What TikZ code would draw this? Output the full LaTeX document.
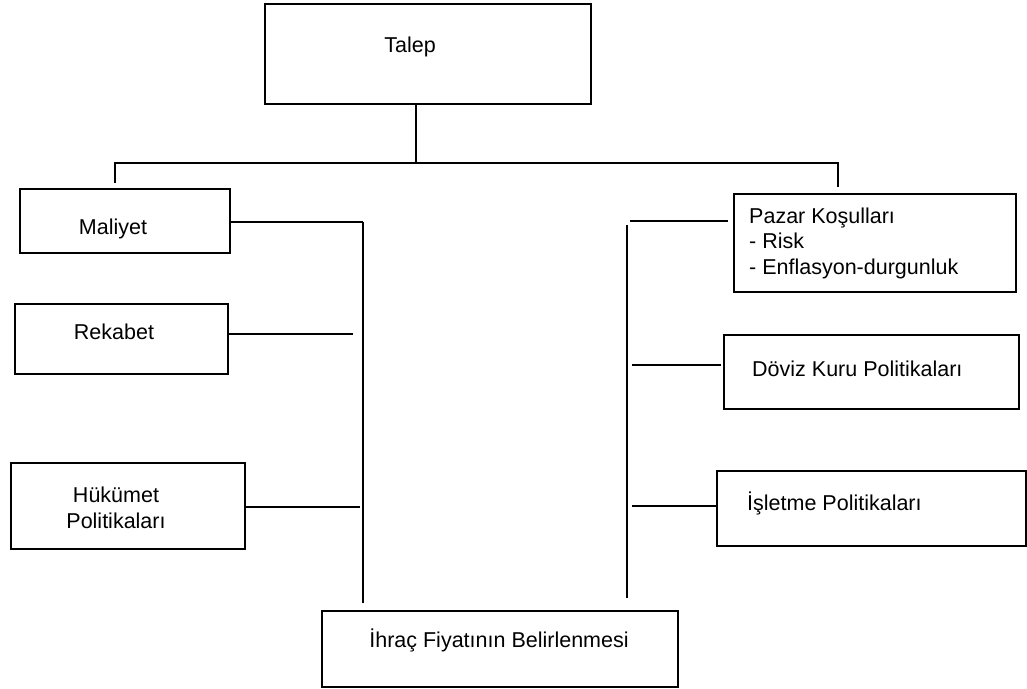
\documentclass[tikz,border=0pt]{standalone}
\usepackage{fontspec}
\setmainfont{Liberation Sans}
\usetikzlibrary{calc}

\begin{document}
\begin{tikzpicture}[x=1pt, y=-1pt,
    box/.style={draw, line width=1.9pt, rectangle, inner sep=0pt},
    txt/.style={font=\fontsize{21.5}{25.5}\selectfont, inner sep=0pt},
    link/.style={line width=1.9pt}]

    % Fix the page to the reference size
    \useasboundingbox (0,0) rectangle (1027,688);

    % Boxes
    \node[box, minimum width=326pt, minimum height=100pt] (talep) at (428,54) {};
    \node[box, minimum width=210pt, minimum height=64pt] (maliyet) at (125,221) {};
    \node[box, minimum width=213pt, minimum height=70pt] (rekabet) at (121.5,339) {};
    \node[box, minimum width=234pt, minimum height=86pt] (hukumet) at (128,506) {};
    \node[box, minimum width=282pt, minimum height=98pt] (pazar) at (875,243) {};
    \node[box, minimum width=295pt, minimum height=74pt] (doviz) at (871.5,372) {};
    \node[box, minimum width=309pt, minimum height=75pt] (isletme) at (871.5,508.5) {};
    \node[box, minimum width=356pt, minimum height=76pt] (ihrac) at (500,649) {};

    % Texts in the boxes
    \node[txt] (talep-t) at (410,47) {Talep};
    \node[txt] (maliyet-t) at (113,229) {Maliyet};
    \node[txt] (rekabet-t) at (114,332) {Rekabet};
    \node[txt, align=center] (hukumet-t) at (116,508) {Hükümet\\Politikaları};
    \node[txt, align=left, anchor=west] (pazar-t) at (749,243)
        {Pazar Koşulları\\- Risk\\- Enflasyon-durgunluk};
    \node[txt, anchor=west] (doviz-t) at (752,369) {Döviz Kuru Politikaları};
    \node[txt, anchor=west] (isletme-t) at (747,503) {İşletme Politikaları};
    \node[txt] (ihrac-t) at (499,640) {İhraç Fiyatının Belirlenmesi};

    % Junction points of the lines
    \coordinate (top) at (416,163);
    \coordinate (tl) at (115,163);
    \coordinate (tr) at (838,163);
    \coordinate (lbus) at (363,222);
    \coordinate (rbus) at (627,225);

    % Talep to the two sides
    \draw[link] (top |- talep.south) -- (top);
    \draw[link] (115,183) -- (tl) -- (tr) -- (838,187);

    % Left side into the bus
    \draw[link] (lbus) -- (363,603);
    \draw[link] (maliyet.east |- lbus) -- (lbus);
    \draw[link] (rekabet.east |- 0,334) -- (353,334);
    \draw[link] (hukumet.east |- 0,507) -- (360,507);

    % Right side into the bus
    \draw[link] (rbus) -- (627,598);
    \draw[link] (630,221) -- (728,221);
    \draw[link] (632,365) -- (721,365);
    \draw[link] (632,506) -- (isletme.west |- 0,506);

\end{tikzpicture}
\end{document}
